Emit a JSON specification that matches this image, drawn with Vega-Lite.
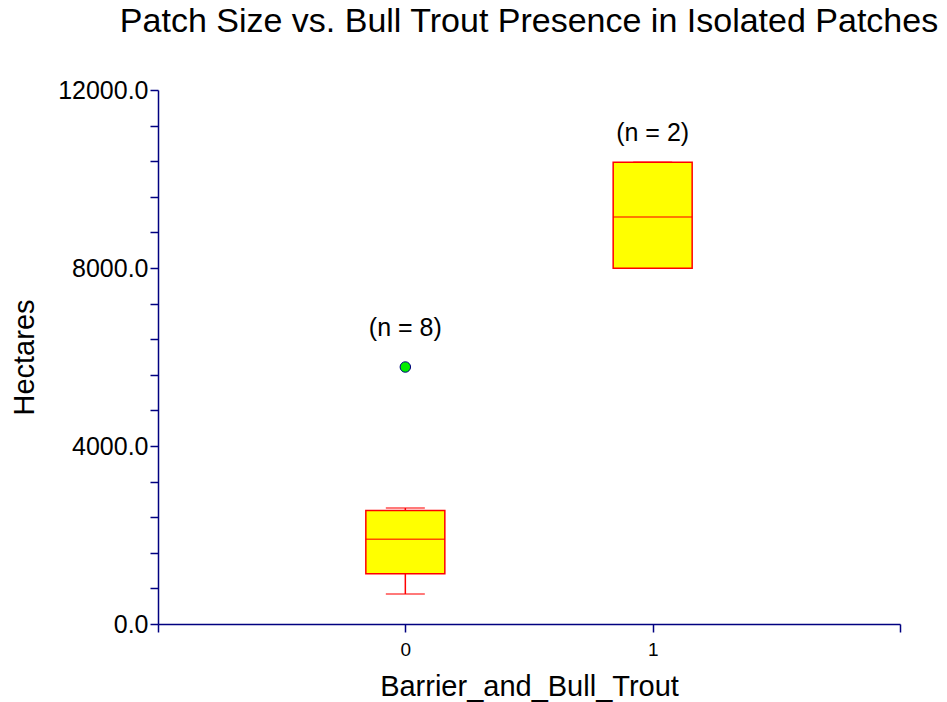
{
  "$schema": "https://vega.github.io/schema/vega-lite/v6.json",
  "width": 742,
  "height": 534,
  "autosize": {"type": "none"},
  "padding": {"left": 158, "top": 90, "right": 47, "bottom": 78},
  "background": "white",
  "config": {
    "view": {"stroke": null},
    "font": "Liberation Sans",
    "axis": {
      "grid": false,
      "domainColor": "#000080",
      "domainWidth": 1.5,
      "tickColor": "#000080",
      "tickWidth": 1.5,
      "tickSize": 8,
      "labelColor": "#000000",
      "labelFont": "Liberation Sans",
      "titleFont": "Liberation Sans",
      "titleFontWeight": "normal",
      "titleColor": "#000000",
      "labelOverlap": false
    }
  },
  "title": {
    "text": "Patch Size vs. Bull Trout Presence in Isolated Patches",
    "font": "Liberation Sans",
    "fontSize": 34,
    "fontWeight": "normal",
    "color": "#000000",
    "anchor": "middle",
    "frame": "group",
    "baseline": "alphabetic",
    "offset": 12
  },
  "datasets": {
    "boxes": [
      {"group": 0, "lower": 674, "q1": 1130, "median": 1903, "q3": 2551, "upper": 2607},
      {"group": 1, "lower": 7993, "q1": 7993, "median": 9146, "q3": 10375, "upper": 10375}
    ],
    "outliers": [
      {"group": 0, "value": 5775}
    ],
    "labels": [
      {"group": 0, "label_y": 6650, "text": "(n = 8)"},
      {"group": 1, "label_y": 11030, "text": "(n = 2)"}
    ]
  },
  "layer": [
    {
      "data": {"name": "boxes"},
      "mark": {"type": "rule", "color": "#FF0000", "strokeWidth": 1.5},
      "encoding": {
        "x": {
          "field": "group",
          "type": "quantitative",
          "scale": {"domain": [-1, 2], "nice": false, "zero": false, "padding": 0},
          "axis": {
            "title": "Barrier_and_Bull_Trout",
            "values": [-1, 0, 1, 2],
            "tickCount": 50,
            "format": "d",
            "labelExpr": "datum.value === 0 || datum.value === 1 ? datum.label : ''",
            "labelFontSize": 19,
            "labelBaseline": "alphabetic",
            "labelPadding": 23,
            "labelFlush": false,
            "titleFontSize": 29,
            "titleBaseline": "alphabetic",
            "titleX": 371,
            "titleY": 71,
            "titleAlign": "center"
          }
        },
        "y": {
          "field": "lower",
          "type": "quantitative",
          "scale": {"domain": [0, 12000], "nice": false, "zero": true},
          "axis": {
            "title": "Hectares",
            "values": [0, 800, 1600, 2400, 3200, 4000, 4800, 5600, 6400, 7200, 8000, 8800, 9600, 10400, 11200, 12000],
            "tickCount": 50,
            "labelExpr": "datum.value % 4000 === 0 ? format(datum.value, '.1f') : ''",
            "labelFontSize": 25,
            "labelPadding": 2,
            "titleFontSize": 29,
            "titleAngle": -90,
            "titleBaseline": "alphabetic",
            "titleAlign": "center",
            "titleX": -125,
            "titleY": 267
          }
        },
        "y2": {"field": "q1"}
      }
    },
    {
      "data": {"name": "boxes"},
      "mark": {"type": "rule", "color": "#FF0000", "strokeWidth": 1.5},
      "encoding": {
        "x": {"field": "group", "type": "quantitative"},
        "y": {"field": "q3", "type": "quantitative"},
        "y2": {"field": "upper"}
      }
    },
    {
      "data": {"name": "boxes"},
      "mark": {"type": "tick", "orient": "horizontal", "color": "#FF0000", "thickness": 1.5, "size": 39},
      "encoding": {
        "x": {"field": "group", "type": "quantitative"},
        "y": {"field": "lower", "type": "quantitative"}
      }
    },
    {
      "data": {"name": "boxes"},
      "mark": {"type": "tick", "orient": "horizontal", "color": "#FF0000", "thickness": 1.5, "size": 39},
      "encoding": {
        "x": {"field": "group", "type": "quantitative"},
        "y": {"field": "upper", "type": "quantitative"}
      }
    },
    {
      "data": {"name": "boxes"},
      "mark": {"type": "bar", "size": 79, "fill": "#FFFF00", "stroke": "#FF0000", "strokeWidth": 1.5},
      "encoding": {
        "x": {"field": "group", "type": "quantitative"},
        "y": {"field": "q1", "type": "quantitative"},
        "y2": {"field": "q3"}
      }
    },
    {
      "data": {"name": "boxes"},
      "mark": {"type": "tick", "orient": "horizontal", "color": "#FF0000", "thickness": 1.5, "size": 79},
      "encoding": {
        "x": {"field": "group", "type": "quantitative"},
        "y": {"field": "median", "type": "quantitative"}
      }
    },
    {
      "data": {"name": "outliers"},
      "mark": {"type": "point", "shape": "circle", "filled": true, "size": 110, "fill": "#00EE00", "stroke": "#000080", "strokeWidth": 1, "opacity": 1},
      "encoding": {
        "x": {"field": "group", "type": "quantitative"},
        "y": {"field": "value", "type": "quantitative"}
      }
    },
    {
      "data": {"name": "labels"},
      "mark": {"type": "text", "fontSize": 25, "font": "Liberation Sans", "color": "#000000", "baseline": "middle", "align": "center"},
      "encoding": {
        "x": {"field": "group", "type": "quantitative"},
        "y": {"field": "label_y", "type": "quantitative"},
        "text": {"field": "text"}
      }
    }
  ]
}
